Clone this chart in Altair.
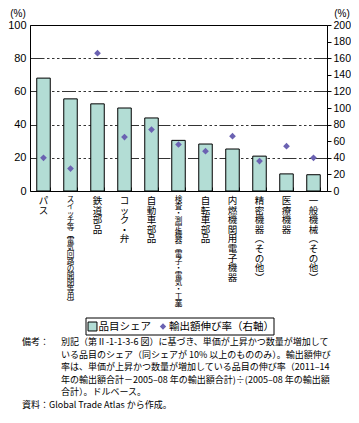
import altair as alt
import pandas as pd

categories = [
    "パス",
    "スイッチ等（電気回路の開閉等用）",
    "鉄道部品",
    "コック・弁",
    "自動車部品",
    "検査・測定機器（電子・電気・工業）",
    "自転車部品",
    "内燃機関用電子機器",
    "精密機器（その他）",
    "医療機器",
    "一般機械（その他）",
]
share = [68, 55.5, 52.5, 50, 44, 30.5, 28.3, 25.3, 21, 10.3, 9.8]
growth = [40, 27, 166, 65, 74, 56, 48, 66, 36, 54, 40]
left_ticks = [0, 20, 40, 60, 80, 100]
right_ticks = [0, 20, 40, 60, 80, 100, 120, 140, 160, 180, 200]
legend_labels = ["品目シェア", "輸出額伸び率（右軸）"]
note_lines = [
    "別記（第Ⅱ-1-1-3-6 図）に基づき、単価が上昇かつ数量が増加して",
    "いる品目のシェア（同シェアが 10% 以上のもののみ）。輸出額伸び",
    "率は、単価が上昇かつ数量が増加している品目の伸び率（2011–14",
    "年の輸出額合計－2005–08 年の輸出額合計)÷(2005–08 年の輸出額",
    "合計）。ドルベース。",
]
source_line = "資料：Global Trade Atlas から作成。"

VERT = {"（": "︵", "）": "︶"}


def vertical(s):
    return "\n".join(VERT.get(c, c) for c in s)


df = pd.DataFrame({
    "cat": categories,
    "share": share,
    "growth": growth,
    "vlabel": [vertical(c) for c in categories],
    "islong": [len(c) > 12 for c in categories],
})

W, H = 297, 166
JP = "Noto Sans CJK JP"
NUM = "Liberation Sans"
BAR = "#b3ddd5"
DIA = "#6b62b2"
xscale = alt.Scale(paddingInner=0.5, paddingOuter=0.25)

bars = alt.Chart(df).mark_bar(fill=BAR, stroke="black", strokeWidth=1).encode(
    x=alt.X("cat:N", sort=categories, scale=xscale,
            axis=alt.Axis(orient="top", offset=-H, labels=False, domain=False,
                          ticks=True, tickSize=4, tickBand="extent",
                          tickColor="black", title=None, grid=False)),
    y=alt.Y("share:Q", scale=alt.Scale(domain=[0, 100]),
            axis=alt.Axis(values=left_ticks, title=None, grid=True,
                          gridColor="black", gridWidth=0.8,
                          gridDash=[14, 2.5, 2.5, 2.5, 2.5, 2.5, 2.5, 2.5],
                          domain=False, ticks=False, labelPadding=4,
                          labelFontSize=11, labelFont=NUM, labelColor="black")),
)

pts = alt.Chart(df).mark_point(shape="diamond", filled=True, size=45,
                               color=DIA, opacity=1).encode(
    x=alt.X("cat:N", sort=categories),
    y=alt.Y("growth:Q", scale=alt.Scale(domain=[0, 200]),
            axis=alt.Axis(orient="right", values=right_ticks, title=None,
                          grid=False, domain=False, ticks=True, tickSize=4,
                          tickColor="black", labelPadding=2, labelFontSize=10.5,
                          labelFont=NUM, labelColor="black")),
)

lab_short = alt.Chart(df).transform_filter("!datum.islong").mark_text(
    font=JP, fontSize=9.5, lineHeight=9.6, lineBreak="\n", baseline="top",
    align="center", color="black").encode(
    x=alt.X("cat:N", sort=categories), y=alt.value(H + 5), text="vlabel:N")

lab_long = alt.Chart(df).transform_filter("datum.islong").mark_text(
    font=JP, fontSize=7.6, lineHeight=6.9, lineBreak="\n", baseline="top",
    align="center", color="black").encode(
    x=alt.X("cat:N", sort=categories), y=alt.value(H + 5), text="vlabel:N")

one = pd.DataFrame({"a": [0]})

pct_l = alt.Chart(one).mark_text(font=NUM, fontSize=10, color="black",
                                 baseline="middle").encode(
    x=alt.value(-12), y=alt.value(-11.5), text=alt.value("(%)"))
pct_r = alt.Chart(one).mark_text(font=NUM, fontSize=10, color="black",
                                 baseline="middle").encode(
    x=alt.value(312), y=alt.value(-11.5), text=alt.value("(%)"))

leg_box = alt.Chart(one).mark_rect(fill="white", stroke="black", strokeWidth=1).encode(
    x=alt.value(56), x2=alt.value(244), y=alt.value(293), y2=alt.value(310))
leg_sq = alt.Chart(one).mark_point(shape="square", filled=True, fill=BAR,
                                   stroke="black", strokeWidth=1, size=80,
                                   opacity=1).encode(
    x=alt.value(62.5), y=alt.value(301.5))
leg_t1 = alt.Chart(one).mark_text(font=JP, fontSize=10.5, align="left",
                                  baseline="middle", color="black").encode(
    x=alt.value(68.5), y=alt.value(301.5), text=alt.value(legend_labels[0]))
leg_dia = alt.Chart(one).mark_point(shape="diamond", filled=True, size=40,
                                    color=DIA, opacity=1).encode(
    x=alt.value(133), y=alt.value(301.5))
leg_t2 = alt.Chart(one).mark_text(font=JP, fontSize=10.5, align="left",
                                  baseline="middle", color="black").encode(
    x=alt.value(139), y=alt.value(301.5), text=alt.value(legend_labels[1]))

NY = 313
NL = 12.6
note_head = alt.Chart(one).mark_text(font=JP, fontSize=9, align="left",
                                     baseline="top", color="black").encode(
    x=alt.value(-8), y=alt.value(NY), text=alt.value("備考："))
note_body = alt.Chart(one).mark_text(font=JP, fontSize=9, align="left",
                                     baseline="top", color="black",
                                     lineBreak="\n", lineHeight=NL).encode(
    x=alt.value(31), y=alt.value(NY), text=alt.value("\n".join(note_lines)))
note_src = alt.Chart(one).mark_text(font=JP, fontSize=9, align="left",
                                    baseline="top", color="black").encode(
    x=alt.value(-8), y=alt.value(NY + 5 * NL), text=alt.value(source_line))

chart = alt.layer(
    bars, pts, lab_short, lab_long, pct_l, pct_r,
    leg_box, leg_sq, leg_t1, leg_dia, leg_t2,
    note_head, note_body, note_src,
).resolve_scale(y="independent").properties(
    width=W, height=H,
    padding={"left": 22, "top": 17, "right": 24, "bottom": 223},
    autosize=alt.AutoSizeParams(type="none"),
).configure_view(stroke="black", strokeWidth=1)

chart.save("out.html", embed_options={"renderer": "svg", "actions": False})
